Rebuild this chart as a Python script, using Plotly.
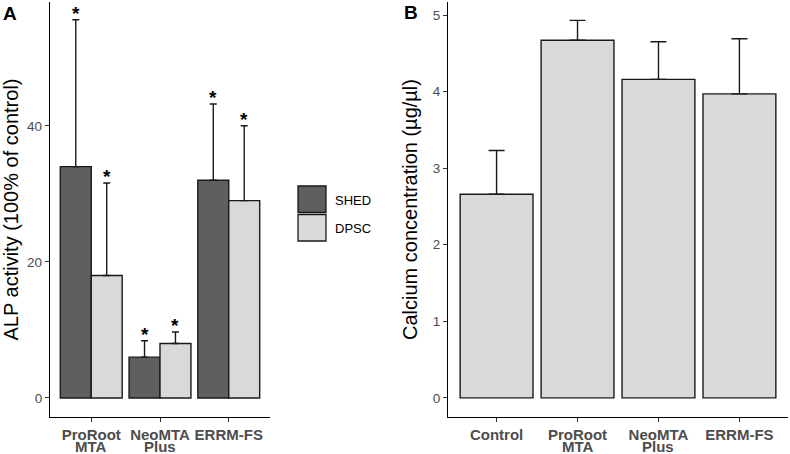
import plotly.graph_objects as go

# ---- data ----
alp_groups = ["ProRoot", "NeoMTA", "ERRM-FS"]
alp_groups_line2 = ["MTA", "Plus", ""]
alp_shed = [34.0, 6.0, 32.0]
alp_shed_err = [21.6, 2.4, 11.2]
alp_dpsc = [18.0, 8.0, 29.0]
alp_dpsc_err = [13.6, 1.7, 11.0]

ca_groups = ["Control", "ProRoot", "NeoMTA", "ERRM-FS"]
ca_groups_line2 = ["", "MTA", "Plus", ""]
ca_mean = [2.66, 4.67, 4.16, 3.97]
ca_err = [0.57, 0.26, 0.49, 0.72]

FONT = "Liberation Sans, Arial, sans-serif"
DARK = "#5f5f5f"
LIGHT = "#d9d9d9"
EDGE = "#1a1a1a"
TICK = "#4d4d4d"

W, H = 790, 454


def px_x(p):
    return p / W


def px_y(p):
    return 1 - p / H


fig = go.Figure()

# panel A: grouped bars on a numeric axis so asterisks can sit on the error bars
half = 0.225
pos = list(range(1, len(alp_groups) + 1))
shed_x = [p - half for p in pos]
dpsc_x = [p + half for p in pos]

for xs, ys, es, col, name in [
    (shed_x, alp_shed, alp_shed_err, DARK, "SHED"),
    (dpsc_x, alp_dpsc, alp_dpsc_err, LIGHT, "DPSC"),
]:
    fig.add_trace(
        go.Bar(
            x=xs,
            y=ys,
            width=0.45,
            name=name,
            marker=dict(color=col, line=dict(color=EDGE, width=1.4)),
            error_y=dict(
                type="data",
                symmetric=False,
                array=es,
                arrayminus=[0] * len(es),
                color=EDGE,
                thickness=1.4,
                width=3.5,
            ),
            xaxis="x",
            yaxis="y",
            showlegend=False,
        )
    )
    # significance stars
    for xi, yi, ei in zip(xs, ys, es):
        fig.add_annotation(
            x=xi,
            y=yi + ei,
            xref="x",
            yref="y",
            text="<b>*</b>",
            showarrow=False,
            yanchor="bottom",
            yshift=-6,
            font=dict(family=FONT, size=19, color="black"),
        )

# panel B
ca_pos = list(range(1, len(ca_groups) + 1))
fig.add_trace(
    go.Bar(
        x=ca_pos,
        y=ca_mean,
        width=0.9,
        marker=dict(color=LIGHT, line=dict(color=EDGE, width=1.4)),
        error_y=dict(
            type="data",
            symmetric=False,
            array=ca_err,
            arrayminus=[0] * len(ca_err),
            color=EDGE,
            thickness=1.4,
            width=8,
        ),
        xaxis="x2",
        yaxis="y2",
        showlegend=False,
    )
)

axis_common = dict(
    showline=True,
    linecolor="black",
    linewidth=1.3,
    showgrid=False,
    zeroline=False,
    ticks="outside",
    ticklen=4,
    tickwidth=1.1,
    tickcolor="#333333",
    automargin=False,
)
ytick_font = dict(family=FONT, size=13.5, color=TICK)
xtick_font = dict(family=FONT, size=15, color=TICK)
title_font = dict(family=FONT, size=20, color="black")

ydom = [px_y(417), px_y(2)]

fig.update_layout(
    width=W,
    height=H,
    margin=dict(l=0, r=0, t=0, b=0),
    paper_bgcolor="white",
    plot_bgcolor="white",
    font=dict(family=FONT),
    xaxis=dict(
        domain=[px_x(50), px_x(270)],
        range=[0.4, 3.6],
        tickvals=pos,
        ticktext=["<b>%s</b>" % g for g in alp_groups],
        tickfont=xtick_font,
        anchor="y",
        **axis_common,
    ),
    yaxis=dict(
        domain=ydom,
        range=[-2.8, 58.2],
        tickvals=[0, 20, 40],
        tickfont=ytick_font,
        anchor="x",
        title=dict(text="ALP activity (100% of control)", standoff=7, font=title_font),
        **axis_common,
    ),
    xaxis2=dict(
        domain=[px_x(448), px_x(788)],
        range=[0.4, 4.6],
        tickvals=ca_pos,
        ticktext=["<b>%s</b>" % g for g in ca_groups],
        tickfont=xtick_font,
        anchor="y2",
        **axis_common,
    ),
    yaxis2=dict(
        domain=ydom,
        range=[-0.25, 5.17],
        tickvals=[0, 1, 2, 3, 4, 5],
        tickfont=ytick_font,
        anchor="x2",
        title=dict(text="Calcium concentration (µg/µl)", standoff=9, font=title_font),
        **axis_common,
    ),
)

# second line of the category labels (ggplot packs the lines tighter than plotly does)
for xref, xs, labels in [("x", pos, alp_groups_line2), ("x2", ca_pos, ca_groups_line2)]:
    for xi, lab in zip(xs, labels):
        if lab:
            fig.add_annotation(x=xi, y=px_y(446.5), xref=xref, yref="paper",
                               text="<b>%s</b>" % lab, showarrow=False,
                               yanchor="middle", font=xtick_font)

# panel letters
fig.add_annotation(x=px_x(1), y=px_y(1), xref="paper", yref="paper", text="<b>A</b>",
                   showarrow=False, xanchor="left", yanchor="top",
                   font=dict(family=FONT, size=19, color="black"))
fig.add_annotation(x=px_x(402), y=px_y(0), xref="paper", yref="paper", text="<b>B</b>",
                   showarrow=False, xanchor="left", yanchor="top",
                   font=dict(family=FONT, size=19, color="black"))

# hand-drawn legend (ggplot-style big keys)
for i, (name, col) in enumerate([("SHED", DARK), ("DPSC", LIGHT)]):
    top = 186 + i * 28.5
    fig.add_shape(type="rect", xref="paper", yref="paper",
                  x0=px_x(298), x1=px_x(326), y0=px_y(top + 26.5), y1=px_y(top),
                  fillcolor=col, line=dict(color=EDGE, width=1.3))
    fig.add_annotation(x=px_x(333), y=px_y(top + 14), xref="paper", yref="paper",
                       text=name, showarrow=False, xanchor="left", yanchor="middle",
                       font=dict(family=FONT, size=13, color="black"))

# drop the default 8px body margin so the figure sits flush in the window
fig.write_html(
    "out.html",
    config={"displayModeBar": False},
    post_script="document.body.style.margin='0';",
)
